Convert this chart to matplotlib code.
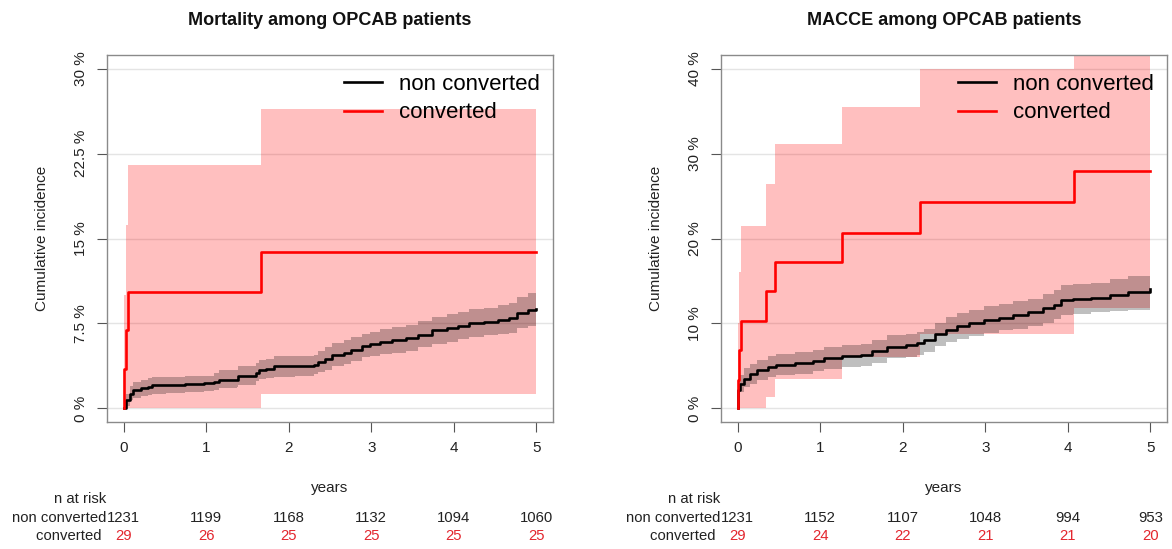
# cumulative incidence curves with n at risk table, OPCAB patients
import numpy as np
import matplotlib.pyplot as plt
from matplotlib.lines import Line2D

plt.rcParams['font.family'] = ['Liberation Sans', 'DejaVu Sans']

# ---- mortality panel ----
mort_titles = "Mortality among OPCAB patients"
mort_nc_t = [0, 0.03, 0.076, 0.12, 0.21, 0.30, 0.34, 0.52, 0.75, 0.97, 1.10, 1.15, 1.37, 1.39,
             1.60, 1.64, 1.73, 1.82, 2.08, 2.31, 2.35, 2.44, 2.53, 2.67, 2.75, 2.89, 2.98, 3.11,
             3.25, 3.42, 3.56, 3.74, 3.92, 4.05, 4.18, 4.36, 4.54, 4.67, 4.76, 4.90, 5.0]
mort_nc_v = [0, 0.74, 1.3, 1.6, 1.76, 1.9, 2.06, 2.1, 2.15, 2.2, 2.35, 2.55, 2.55, 2.9,
             3.15, 3.4, 3.5, 3.7, 3.75, 3.8, 4.1, 4.4, 4.7, 4.9, 5.2, 5.5, 5.65, 5.9,
             6.0, 6.2, 6.5, 6.9, 7.1, 7.3, 7.5, 7.65, 7.8, 7.95, 8.45, 8.7, 8.8]
mort_nc_lo = [0, 0.2, 0.7, 0.9, 1.1, 1.2, 1.3, 1.4, 1.45, 1.5, 1.6, 1.8, 1.9, 2.1,
              2.4, 2.6, 2.7, 2.8, 2.9, 3.0, 3.2, 3.4, 3.7, 3.9, 4.2, 4.5, 4.6, 4.8,
              4.9, 5.1, 5.4, 5.7, 5.9, 6.1, 6.3, 6.5, 6.6, 6.7, 7.1, 7.3, 7.4]
mort_nc_hi = [0, 1.3, 2.0, 2.3, 2.5, 2.7, 2.75, 2.8, 2.85, 2.9, 3.1, 3.35, 3.4, 3.75,
              4.0, 4.25, 4.35, 4.6, 4.65, 4.7, 5.1, 5.45, 5.75, 6.0, 6.3, 6.6, 6.75, 7.05,
              7.15, 7.35, 7.7, 8.1, 8.3, 8.5, 8.75, 8.9, 9.1, 9.3, 9.8, 10.2, 10.4]
mort_cv_t = [0, 0.005, 0.03, 0.055, 1.67, 5.0]
mort_cv_v = [0, 3.45, 6.9, 10.3, 13.8, 13.8]
mort_cv_lo = [0, 0, 0, 0, 1.3, 1.3]
mort_cv_hi = [0, 10.0, 16.2, 21.5, 26.4, 26.4]
mort_yticks = [0, 7.5, 15, 22.5, 30]
mort_yticklabels = ["0 %", "7.5 %", "15 %", "22.5 %", "30 %"]
mort_risk_nc = [1231, 1199, 1168, 1132, 1094, 1060]
mort_risk_cv = [29, 26, 25, 25, 25, 25]

# ---- MACCE panel ----
macce_titles = "MACCE among OPCAB patients"
macce_nc_t = [0, 0.01, 0.036, 0.08, 0.15, 0.24, 0.37, 0.46, 0.69, 0.91, 1.05, 1.27, 1.50,
              1.63, 1.81, 2.04, 2.17, 2.26, 2.39, 2.53, 2.66, 2.80, 2.98, 3.16, 3.34, 3.52,
              3.70, 3.83, 3.92, 4.06, 4.28, 4.51, 4.73, 5.0]
macce_nc_v = [0, 2.2, 2.9, 3.5, 4.0, 4.5, 4.9, 5.1, 5.3, 5.6, 5.9, 6.15, 6.3,
              6.7, 7.25, 7.45, 7.65, 8.0, 8.7, 9.2, 9.7, 10.0, 10.4, 10.7, 11.0, 11.3,
              11.8, 12.2, 12.75, 12.9, 13.05, 13.3, 13.7, 14.0]
macce_nc_lo = [0, 1.2, 1.9, 2.5, 2.9, 3.3, 3.7, 3.9, 4.1, 4.4, 4.6, 4.9, 5.0,
               5.4, 5.9, 6.1, 6.3, 6.6, 7.3, 7.8, 8.2, 8.5, 8.9, 9.2, 9.4, 9.7,
               10.1, 10.5, 11.0, 11.1, 11.3, 11.5, 11.6, 11.8]
macce_nc_hi = [0, 3.2, 3.9, 4.7, 5.2, 5.7, 6.2, 6.4, 6.6, 6.9, 7.2, 7.5, 7.6,
               8.0, 8.6, 8.8, 9.0, 9.4, 10.1, 10.8, 11.2, 11.6, 12.0, 12.3, 12.6, 12.9,
               13.5, 13.9, 14.5, 14.6, 14.8, 15.2, 15.6, 16.1]
macce_cv_t = [0, 0.003, 0.022, 0.045, 0.34, 0.45, 1.27, 2.21, 4.07, 5.0]
macce_cv_v = [0, 3.4, 6.9, 10.3, 13.8, 17.2, 20.7, 24.3, 27.9, 27.9]
macce_cv_lo = [0, 0, 0, 0, 1.4, 3.5, 6.1, 8.8, 11.8, 11.8]
macce_cv_hi = [0, 10.0, 16.1, 21.5, 26.4, 31.1, 35.5, 40.0, 45.0, 45.0]
macce_yticks = [0, 10, 20, 30, 40]
macce_yticklabels = ["0 %", "10 %", "20 %", "30 %", "40 %"]
macce_risk_nc = [1231, 1152, 1107, 1048, 994, 953]
macce_risk_cv = [29, 24, 22, 21, 21, 20]

risk_times = [0, 1, 2, 3, 4, 5]
group_names = ["non converted", "converted"]
RED = "#ff0000"
RISK_RED = "#e3262e"


def draw_panel(ax, title, nc, cv, yticks, yticklabels, risk_nc, risk_cv):
    nc_t, nc_v, nc_lo, nc_hi = nc
    cv_t, cv_v, cv_lo, cv_hi = cv
    ymax = yticks[-1]

    for y in yticks:
        ax.axhline(y, color="#e4e4e4", lw=1, zorder=0)

    # confidence bands
    ax.fill_between(cv_t, cv_lo, cv_hi, step="post", color=RED, alpha=0.25, lw=0, zorder=1)
    ax.fill_between(nc_t, nc_lo, nc_hi, step="post", color="black", alpha=0.25, lw=0, zorder=2)
    # curves
    ax.step(nc_t, nc_v, where="post", color="black", lw=1.9, zorder=3)
    ax.step(cv_t, cv_v, where="post", color=RED, lw=1.9, zorder=4)

    ax.set_xlim(-0.2, 5.2)
    ax.set_ylim(-0.04 * ymax, 1.04 * ymax)
    ax.set_xticks(risk_times)
    ax.set_yticks(yticks)
    ax.set_yticklabels(yticklabels, rotation=90, va="center")
    ax.tick_params(length=7, color="#555555", labelcolor="#222222", labelsize=11, pad=7)
    for s in ax.spines.values():
        s.set_color("#8a8a8a")
        s.set_linewidth(1)

    ax.text(0.5, 1.095, title, transform=ax.transAxes, ha="center", va="center",
            fontsize=13, fontweight="bold", color="#111111")
    ax.text(-0.1457, 0.5, "Cumulative incidence", transform=ax.transAxes, rotation=90,
            ha="center", va="center", fontsize=11, color="#222222")

    handles = [Line2D([], [], color="black", lw=1.9), Line2D([], [], color=RED, lw=1.9)]
    ax.legend(handles, group_names, loc="upper left", bbox_to_anchor=(0.531, 0.948),
              frameon=False, fontsize=16, handlelength=1.7, handletextpad=0.8,
              borderpad=0, borderaxespad=0, labelspacing=0.33)

    # n at risk table
    tr = ax.get_xaxis_transform()
    ax.text(0.5, -0.18, "years", transform=ax.transAxes, ha="center", va="center",
            fontsize=11, color="#222222")
    ax.text(-0.0605, -0.2098, "n at risk", transform=ax.transAxes, ha="center",
            va="center", fontsize=10.7, color="#222222")
    ax.text(-0.002, -0.2616, group_names[0], transform=ax.transAxes, ha="right",
            va="center", fontsize=10.7, color="#222222")
    ax.text(-0.002, -0.3106, group_names[1] + " ", transform=ax.transAxes, ha="right",
            va="center", fontsize=10.7, color="#222222")
    for t, a, b in zip(risk_times, risk_nc, risk_cv):
        ax.text(t, -0.2616, str(a), transform=tr, ha="center", va="center",
                fontsize=10.7, color="#222222")
        ax.text(t, -0.3106, str(b), transform=tr, ha="center", va="center",
                fontsize=10.7, color=RISK_RED)


fig = plt.figure(figsize=(11.72, 5.49), dpi=100)
ax1 = fig.add_axes([107 / 1172, 127 / 549, 446 / 1172, 367 / 549])
ax2 = fig.add_axes([721 / 1172, 127 / 549, 446 / 1172, 367 / 549])

draw_panel(ax1, mort_titles,
           (mort_nc_t, mort_nc_v, mort_nc_lo, mort_nc_hi),
           (mort_cv_t, mort_cv_v, mort_cv_lo, mort_cv_hi),
           mort_yticks, mort_yticklabels, mort_risk_nc, mort_risk_cv)
draw_panel(ax2, macce_titles,
           (macce_nc_t, macce_nc_v, macce_nc_lo, macce_nc_hi),
           (macce_cv_t, macce_cv_v, macce_cv_lo, macce_cv_hi),
           macce_yticks, macce_yticklabels, macce_risk_nc, macce_risk_cv)

fig.savefig("out.png", dpi=100)
